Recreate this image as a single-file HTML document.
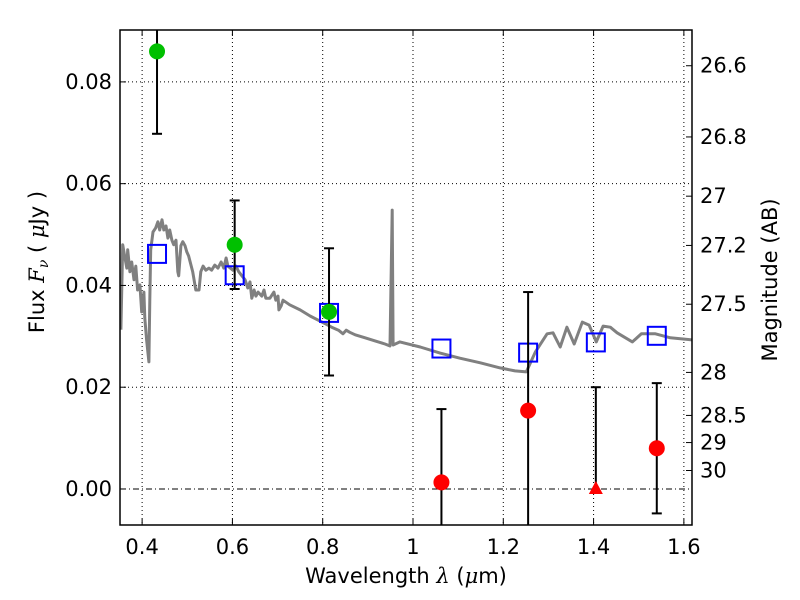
<!DOCTYPE html>
<html><head><meta charset="utf-8">
<style>
html,body{margin:0;padding:0;background:#fff;}
svg{display:block;font-family:"DejaVu Sans","Liberation Sans",sans-serif;}
</style></head>
<body>
<svg id="chart" width="800" height="600" viewBox="0 0 800 600" xmlns="http://www.w3.org/2000/svg">
<rect x="0" y="0" width="800" height="600" fill="#fff"/>
<g id="grid"></g>
<g id="marks"></g>
<g id="axes"></g>
<text x="406" y="583" font-size="21" text-anchor="middle">Wavelength  <tspan font-style="italic" font-family="DejaVu Serif, serif">λ</tspan> (<tspan font-style="italic" font-family="DejaVu Serif, serif">μ</tspan>m)</text>
<text transform="translate(44,262) rotate(-90)" font-size="21" text-anchor="middle">Flux  <tspan font-style="italic" font-family="DejaVu Serif, serif">F</tspan><tspan font-style="italic" font-family="DejaVu Serif, serif" font-size="14" dy="4">ν</tspan><tspan dy="-4">  ( </tspan><tspan font-style="italic" font-family="DejaVu Serif, serif">μ</tspan>Jy )</text>
<text transform="translate(777,280) rotate(-90)" font-size="21" text-anchor="middle">Magnitude (AB)</text>
</svg>
<script>
var xTicks=[0.4,0.6,0.8,1.0,1.2,1.4,1.6];
var xTickLabels=["0.4","0.6","0.8","1","1.2","1.4","1.6"];
var yTicks=[0.00,0.02,0.04,0.06,0.08];
var yTickLabels=["0.00","0.02","0.04","0.06","0.08"];
var magTicks=[26.6,26.8,27,27.2,27.5,28,28.5,29,30];
var magTickLabels=["26.6","26.8","27","27.2","27.5","28","28.5","29","30"];
var specWave=[0.353,0.357,0.362,0.366,0.368,0.373,0.377,0.382,0.386,0.390,0.395,0.399,0.404,0.406,0.410,0.415,0.417,0.419,0.424,0.430,0.435,0.439,0.444,0.448,0.453,0.457,0.461,0.466,0.470,0.475,0.479,0.481,0.486,0.490,0.495,0.499,0.503,0.512,0.519,0.526,0.530,0.535,0.541,0.548,0.554,0.561,0.568,0.575,0.581,0.586,0.590,0.601,0.608,0.614,0.621,0.628,0.634,0.639,0.643,0.648,0.652,0.657,0.665,0.670,0.674,0.683,0.692,0.696,0.701,0.703,0.708,0.712,0.727,0.750,0.772,0.794,0.805,0.820,0.835,0.845,0.852,0.860,0.872,0.894,0.916,0.938,0.949,0.954,0.956,0.971,1.016,1.060,1.104,1.149,1.193,1.226,1.251,1.271,1.297,1.310,1.326,1.341,1.357,1.375,1.390,1.406,1.421,1.437,1.452,1.486,1.506,1.537,1.570,1.619];
var specFlux=[0.0313,0.0480,0.0454,0.0434,0.0470,0.0427,0.0446,0.0411,0.0438,0.0391,0.0401,0.0348,0.0387,0.0336,0.0293,0.0250,0.0371,0.0470,0.0505,0.0513,0.0525,0.0509,0.0529,0.0509,0.0517,0.0493,0.0509,0.0489,0.0480,0.0489,0.0427,0.0419,0.0478,0.0486,0.0478,0.0466,0.0458,0.0427,0.0391,0.0391,0.0427,0.0438,0.0430,0.0434,0.0430,0.0440,0.0434,0.0446,0.0434,0.0454,0.0438,0.0430,0.0438,0.0427,0.0419,0.0411,0.0395,0.0407,0.0375,0.0391,0.0379,0.0387,0.0379,0.0391,0.0375,0.0375,0.0387,0.0371,0.0379,0.0352,0.0360,0.0371,0.0362,0.0352,0.0340,0.0330,0.0325,0.0318,0.0312,0.0305,0.0312,0.0308,0.0303,0.0297,0.0291,0.0285,0.0281,0.0548,0.0283,0.0289,0.0279,0.0267,0.0257,0.0248,0.0238,0.0232,0.0230,0.0269,0.0305,0.0307,0.0279,0.0318,0.0285,0.0328,0.0322,0.0289,0.0320,0.0318,0.0307,0.0289,0.0305,0.0305,0.0297,0.0293];
var modelWave=[0.433,0.605,0.814,1.063,1.255,1.405,1.540];
var modelFlux=[0.0462,0.0420,0.0346,0.0276,0.0268,0.0288,0.0301];
var greenWave=[0.433,0.605,0.814];
var greenFlux=[0.0860,0.0480,0.0348];
var greenErr=[0.0162,0.0087,0.0125];
var redWave=[1.063,1.255,1.540];
var redFlux=[0.0013,0.0154,0.0080];
var redErr=[0.0144,0.0233,0.0128];
var limWave=[1.405];
var limFlux=[0.0];
var limErr=[0.0200];

var L=120,R=692,T=30,B=525;
var XMIN=0.351,XMAX=1.618,YMIN=-0.00708,YMAX=0.0902;
function sx(v){return L+(v-XMIN)/(XMAX-XMIN)*(R-L);}
function sy(v){return B-(v-YMIN)/(YMAX-YMIN)*(B-T);}
function magToFlux(m){return Math.pow(10,(23.9-m)/2.5);}
var NS="http://www.w3.org/2000/svg";
function mk(tag,attrs,parent){var e=document.createElementNS(NS,tag);for(var k in attrs)e.setAttribute(k,attrs[k]);parent.appendChild(e);return e;}
var grid=document.getElementById('grid'),marks=document.getElementById('marks'),axes=document.getElementById('axes');

var defs=mk('clipPath',{id:'clip'},document.getElementById('chart'));
mk('rect',{x:L,y:T,width:R-L,height:B-T},defs);
marks.setAttribute('clip-path','url(#clip)');

xTicks.forEach(function(v,i){
  var x=sx(v);
  var g=mk('line',{x1:x,x2:x,y1:T,y2:B,stroke:'#000','stroke-width':1,'stroke-dasharray':'1,3'},grid);
  
  
  var t=mk('line',{x1:x,x2:x,y1:B,y2:B-6,stroke:'#000','stroke-width':1},axes);
  
  
  var t2=mk('line',{x1:x,x2:x,y1:T,y2:T+6,stroke:'#000','stroke-width':1},axes);
  
  
  var lb=mk('text',{x:x,y:B+29,'font-size':21,'text-anchor':'middle'},axes);
  lb.textContent=xTickLabels[i];
  
  
});
yTicks.forEach(function(v,i){
  var y=sy(v);
  var g=mk('line',{x1:L,x2:R,y1:y,y2:y,stroke:'#000','stroke-width':1,'stroke-dasharray':v===0?'6,3,1,3':'1,3'},grid);
  
  
  var t=mk('line',{x1:L,x2:L+6,y1:y,y2:y,stroke:'#000','stroke-width':1},axes);
  
  
  var lb=mk('text',{x:L-8,y:y+7,'font-size':21,'text-anchor':'end'},axes);
  lb.textContent=yTickLabels[i];
  
  
});
magTicks.forEach(function(m,i){
  var y=sy(magToFlux(m));
  var t=mk('line',{x1:R,x2:R-6,y1:y,y2:y,stroke:'#000','stroke-width':1},axes);
  
  
  var lb=mk('text',{x:R+8,y:y+7,'font-size':21,'text-anchor':'start'},axes);
  lb.textContent=magTickLabels[i];
  
  
});
var frame=mk('rect',{x:L,y:T,width:R-L,height:B-T,fill:'none',stroke:'#000','stroke-width':1.5},axes);



var d='';
for(var i=0;i<specWave.length;i++){d+=(i?'L':'M')+sx(specWave[i]).toFixed(1)+','+sy(specFlux[i]).toFixed(1);}
var sp=mk('path',{d:d,fill:'none',stroke:'#808080','stroke-width':3,'stroke-linejoin':'round'},marks);



function errbar(w,f,e,name){
  var x=sx(w),y1=sy(f+e),y2=sy(f-e);
  var l=mk('line',{x1:x,x2:x,y1:y1,y2:y2,stroke:'#000','stroke-width':2},marks);
  
  
  [y1,y2].forEach(function(yy){
    var c=mk('line',{x1:x-5,x2:x+5,y1:yy,y2:yy,stroke:'#000','stroke-width':2},marks);
    
    
  });
}
modelWave.forEach(function(w,i){
  var r=mk('rect',{x:sx(w)-9,y:sy(modelFlux[i])-9,width:18,height:18,fill:'none',stroke:'#0000ff','stroke-width':2},marks);
  
  
});
greenWave.forEach(function(w,i){
  errbar(w,greenFlux[i],greenErr[i],'detection-error-bar');
  var c=mk('circle',{cx:sx(w),cy:sy(greenFlux[i]),r:8,fill:'#00c000'},marks);
  
  
});
redWave.forEach(function(w,i){
  errbar(w,redFlux[i],redErr[i],'nondetection-error-bar');
  var c=mk('circle',{cx:sx(w),cy:sy(redFlux[i]),r:8,fill:'#ff0000'},marks);
  
  
});
limWave.forEach(function(w,i){
  var x=sx(w),y=sy(limFlux[i]),yt=sy(limFlux[i]+limErr[i]);
  var l=mk('line',{x1:x,x2:x,y1:yt,y2:y,stroke:'#000','stroke-width':2},marks);
  
  
  var c=mk('line',{x1:x-5,x2:x+5,y1:yt,y2:yt,stroke:'#000','stroke-width':2},marks);
  
  
  var p=mk('polygon',{points:(x-7)+','+(y+5)+' '+(x+7)+','+(y+5)+' '+x+','+(y-8),fill:'#ff0000'},marks);
  
  
});
</script>
</body></html>
